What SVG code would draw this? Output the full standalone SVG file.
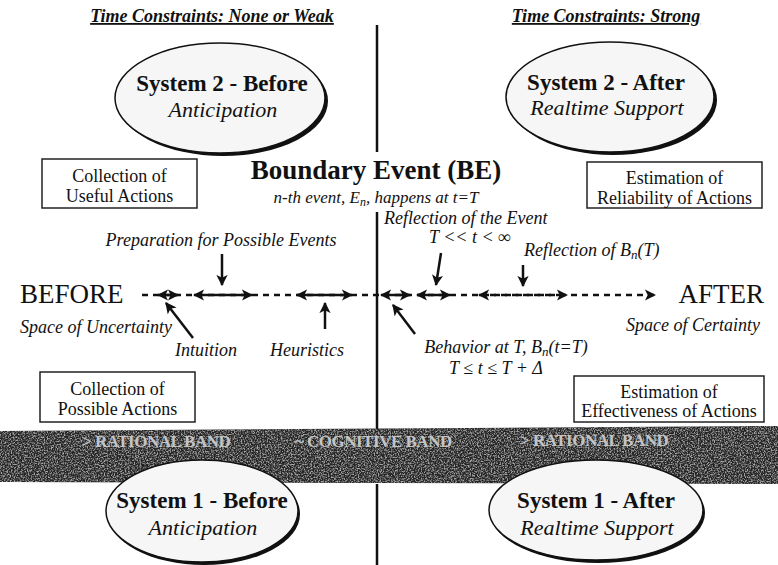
<svg xmlns="http://www.w3.org/2000/svg" width="778" height="565" viewBox="0 0 778 565" font-family="'Liberation Serif', 'DejaVu Serif', serif">
<style>
text{font-family:'Liberation Serif','DejaVu Serif',serif;fill:#111}
.hdr{font-size:18px;font-weight:bold;font-style:italic;text-decoration:underline}
.sysT{font-size:23px;font-weight:bold}
.sysS{font-size:22px;font-style:italic}
.box{fill:#fff;stroke:#222;stroke-width:1.5}
.boxT{font-size:18px}
.it{font-size:18px;font-style:italic}
.big{font-size:27px}
.band{font-size:17px;font-weight:bold;fill:#c4c4c4;letter-spacing:-0.5px}
.ell{fill:#f6f6f6;stroke:#111;stroke-width:1.5}
.shd{fill:#111}
.vl{stroke:#111;stroke-width:2.5;fill:none}
.dash{stroke:#111;stroke-width:2.5;stroke-dasharray:6 5;fill:none}
.sol{stroke:#111;stroke-width:2.5;fill:none}
.ptr{stroke:#111;stroke-width:2.5;fill:none;marker-end:url(#ah)}
</style>
<defs>
<marker id="ah" viewBox="0 0 10 10" refX="9" refY="5" markerWidth="4.5" markerHeight="4.5" orient="auto" markerUnits="strokeWidth">
<path d="M0,0 L10,5 L0,10 L2.5,5 z" fill="#111"/>
</marker>
<marker id="as" viewBox="0 0 10 10" refX="1" refY="5" markerWidth="4.5" markerHeight="4.5" orient="auto" markerUnits="strokeWidth">
<path d="M10,0 L0,5 L10,10 L7.5,5 z" fill="#111"/>
</marker>
<filter id="noise" x="0" y="0" width="100%" height="100%">
<feTurbulence type="fractalNoise" baseFrequency="0.7" numOctaves="3" seed="5"/>
<feColorMatrix type="matrix" values="0 0 0 0 1  0 0 0 0 1  0 0 0 0 1  0 0 0 3 -1.2"/>
<feComposite in2="SourceGraphic" operator="in"/>
</filter>
<clipPath id="bandclip"><polygon points="0,431 778,426 778,484 0,482"/></clipPath>
</defs>

<g id="divider">
<line class="vl" x1="377" y1="25" x2="377" y2="152"/>
<line class="vl" x1="377" y1="212" x2="377" y2="430"/>
<line class="vl" x1="377" y1="484" x2="377" y2="565"/>
</g>

<g id="band">
<polygon points="0,431 778,426 778,484 0,482" fill="#232323"/>
<rect x="0" y="424" width="778" height="62" fill="#fff" opacity="0.6" filter="url(#noise)" clip-path="url(#bandclip)"/>
<text class="band" x="82" y="447">&gt; RATIONAL BAND</text>
<text class="band" x="295" y="447">~ COGNITIVE BAND</text>
<text class="band" x="520" y="446">&gt; RATIONAL BAND</text>
</g>

<g id="headers">
<text class="hdr" x="212" y="22" text-anchor="middle">Time Constraints: None or Weak</text>
<text class="hdr" x="606" y="22" text-anchor="middle">Time Constraints: Strong</text>
</g>

<g id="sys2-before">
<ellipse class="shd" cx="223" cy="101" rx="105" ry="55"/>
<ellipse class="ell" cx="220" cy="98" rx="105" ry="55"/>
<text class="sysT" x="222" y="91" text-anchor="middle">System 2 - Before</text>
<text class="sysS" x="223" y="117" text-anchor="middle">Anticipation</text>
</g>

<g id="sys2-after">
<ellipse class="shd" cx="613" cy="100" rx="104" ry="55"/>
<ellipse class="ell" cx="610" cy="97" rx="104" ry="55"/>
<text class="sysT" x="606" y="90" text-anchor="middle">System 2 - After</text>
<text class="sysS" x="607" y="115" text-anchor="middle">Realtime Support</text>
</g>

<g id="sys1-before">
<ellipse class="shd" cx="204" cy="514" rx="96" ry="51"/>
<ellipse class="ell" cx="202" cy="511" rx="96" ry="51"/>
<text class="sysT" x="202" y="508" text-anchor="middle">System 1 - Before</text>
<text class="sysS" x="203" y="535" text-anchor="middle">Anticipation</text>
</g>

<g id="sys1-after">
<ellipse class="shd" cx="598" cy="513" rx="107" ry="50"/>
<ellipse class="ell" cx="596" cy="510" rx="107" ry="50"/>
<text class="sysT" x="596" y="508" text-anchor="middle">System 1 - After</text>
<text class="sysS" x="597" y="535" text-anchor="middle">Realtime Support</text>
</g>

<g id="box-useful">
<rect class="box" x="42" y="159" width="155" height="49"/>
<text class="boxT" x="119.5" y="182" text-anchor="middle">Collection of</text>
<text class="boxT" x="119.5" y="202" text-anchor="middle">Useful Actions</text>
</g>

<g id="box-reliability">
<rect class="box" x="587" y="162" width="175" height="46"/>
<text class="boxT" x="674.5" y="184" text-anchor="middle">Estimation of</text>
<text class="boxT" x="674.5" y="204" text-anchor="middle">Reliability of Actions</text>
</g>

<g id="box-possible">
<rect class="box" x="40" y="372" width="155" height="50"/>
<text class="boxT" x="117.5" y="395" text-anchor="middle">Collection of</text>
<text class="boxT" x="117.5" y="415" text-anchor="middle">Possible Actions</text>
</g>

<g id="box-effectiveness">
<rect class="box" x="574" y="376" width="190" height="46"/>
<text class="boxT" x="669" y="398" text-anchor="middle">Estimation of</text>
<text class="boxT" x="669" y="417" text-anchor="middle">Effectiveness of Actions</text>
</g>

<g id="boundary-event">
<text x="376" y="179" text-anchor="middle" style="font-size:27px;font-weight:bold">Boundary Event (BE)</text>
<text x="376" y="203" text-anchor="middle" style="font-size:17px;font-style:italic">n-th event, E<tspan font-size="12" dy="3">n</tspan><tspan dy="-3">, happens at t=T</tspan></text>
</g>

<g id="timeline-labels">
<text class="big" x="20" y="303">BEFORE</text>
<text class="big" x="764" y="303" text-anchor="end">AFTER</text>
<text class="it" x="20" y="333">Space of Uncertainty</text>
<text class="it" x="760" y="331" text-anchor="end">Space of Certainty</text>
<text class="it" x="175" y="356">Intuition</text>
<text class="it" x="270" y="356">Heuristics</text>
<text class="it" x="221" y="246" text-anchor="middle">Preparation for Possible Events</text>
<text class="it" x="384" y="224">Reflection of the Event</text>
<text class="it" x="470" y="243" text-anchor="middle">T &lt;&lt; t &lt; ∞</text>
<text class="it" x="524" y="256">Reflection of B<tspan font-size="13" dy="3">n</tspan><tspan dy="-3">(T)</tspan></text>
<text class="it" x="506" y="353" text-anchor="middle">Behavior at T,  B<tspan font-size="13" dy="3">n</tspan><tspan dy="-3">(t=T)</tspan></text>
<text class="it" x="496" y="374" text-anchor="middle">T ≤ t ≤ T + Δ</text>
</g>

<g id="connectors">
<path class="dash" d="M142,295 H655" marker-end="url(#ah)"/>
<path class="sol" d="M158,295 H178" marker-start="url(#as)" marker-end="url(#ah)"/>
<path class="sol" d="M194,295 H252" marker-start="url(#as)" marker-end="url(#ah)"/>
<path class="sol" d="M297,295 H352" marker-start="url(#as)" marker-end="url(#ah)"/>
<path class="sol" d="M381,295 H410" marker-start="url(#as)" marker-end="url(#ah)"/>
<path class="sol" d="M417,295 H450" marker-start="url(#as)" marker-end="url(#ah)"/>
<path class="dash" d="M479,295 H567" marker-start="url(#as)" marker-end="url(#ah)"/>
<path class="ptr" d="M222,254 V285"/>
<path class="ptr" d="M441,253 L436,285"/>
<path class="ptr" d="M523,265 V286"/>
<path class="ptr" d="M193,338 L166,303"/>
<path class="ptr" d="M325,329 V303"/>
<path class="ptr" d="M415,334 L393,305"/>
</g>
</svg>
